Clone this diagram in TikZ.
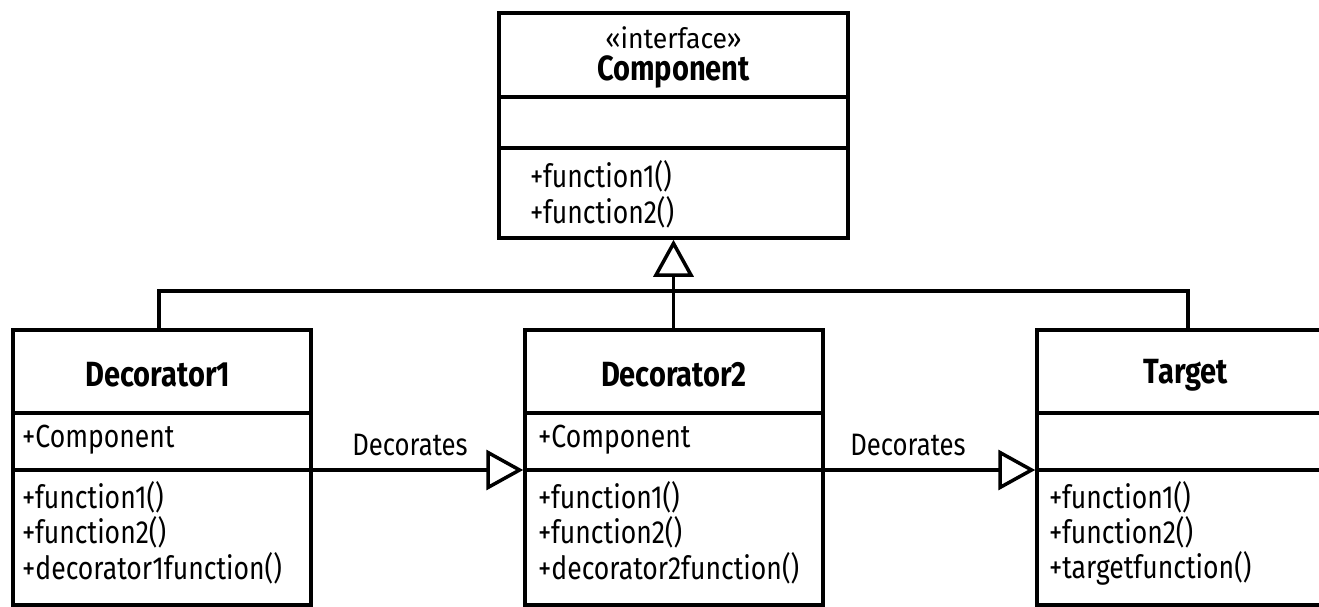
\documentclass[tikz,border=0pt]{standalone}
\usepackage{fontspec}
\setmainfont[FakeStretch=0.83]{Fira Sans}
\newfontfamily\stereofont[FakeStretch=0.95]{Fira Sans}
\usetikzlibrary{arrows.meta}
\begin{document}
\begin{tikzpicture}[x=1pt,y=-1pt,
  ln/.style={line width=3.5pt},
  box/.style={draw,ln,rectangle,inner sep=0pt,minimum width=298pt,minimum height=275pt},
  txt/.style={font=\fontsize{32}{36}\selectfont,inner sep=0pt,anchor=west},
  ttl/.style={font=\bfseries\fontsize{35}{38}\selectfont,inner sep=0pt},
  lbl/.style={font=\fontsize{31}{34}\selectfont,inner sep=0pt},
  stereo/.style={font=\stereofont\fontsize{28}{30}\selectfont,inner sep=0pt},
  gen/.style={ln,-{Triangle[open,length=37pt,width=40pt]}}]
\useasboundingbox (0,0) rectangle (1319,607);
\clip (0,0) rectangle (1319,607);
% boxes
\node[draw,ln,rectangle,inner sep=0pt,minimum width=349pt,minimum height=225pt] (comp) at (673.5,125.5) {};
\node[box] (d1) at (162,467.5) {};
\node[box] (d2) at (674,467.5) {};
\node[box] (tg) at (1186,467.5) {};
% compartments
\draw[ln] (comp.west |- 0,97) -- (comp.east |- 0,97);
\draw[ln] (comp.west |- 0,148) -- (comp.east |- 0,148);
\foreach \b in {d1,d2,tg}{
  \draw[ln] (\b.west |- 0,413) -- (\b.east |- 0,413);
  \draw[ln] (\b.west |- 0,470) -- (\b.east |- 0,470);
}
% texts
\node[stereo] (st) at (673.5,38) {«interface»};
\node[ttl] (ct) at (673.5,72) {Component};
\node[txt] (cf1) at (530,176) {+function1()};
\node[txt] (cf2) at (530,212) {+function2()};
\node[ttl] (t1) at (158,375) {Decorator1};
\node[txt] (a1) at (22,440) {+Component};
\node[txt] (m11) at (22,497) {+function1()};
\node[txt] (m12) at (22,532) {+function2()};
\node[txt] (m13) at (22,568) {+decorator1function()};
\node[ttl] (t2) at (674,375) {Decorator2};
\node[txt] (a2) at (538,440) {+Component};
\node[txt] (m21) at (538,497) {+function1()};
\node[txt] (m22) at (538,532) {+function2()};
\node[txt] (m23) at (538,568) {+decorator2function()};
\node[ttl] (t3) at (1186,375) {Target};
\node[txt] (m31) at (1049,497) {+function1()};
\node[txt] (m32) at (1049,532) {+function2()};
\node[txt] (m33) at (1049,568) {+targetfunction()};
% connectors
\coordinate (bus) at (673.5,291);
\coordinate (d1top) at (159,330);
\coordinate (tgtop) at (1188,330);
\draw[ln] (d1top) |- (bus) -| (tgtop);
\draw[gen] (comp.south |- d2.north) -- (comp.south);
\draw[gen] (d1.east |- 0,470) -- node[lbl,above=12pt,xshift=-8pt] (lb1) {Decorates} (d2.west |- 0,470);
\draw[gen] (d2.east |- 0,470) -- node[lbl,above=12pt,xshift=-22pt] (lb2) {Decorates} (tg.west |- 0,470);
\end{tikzpicture}
\end{document}
